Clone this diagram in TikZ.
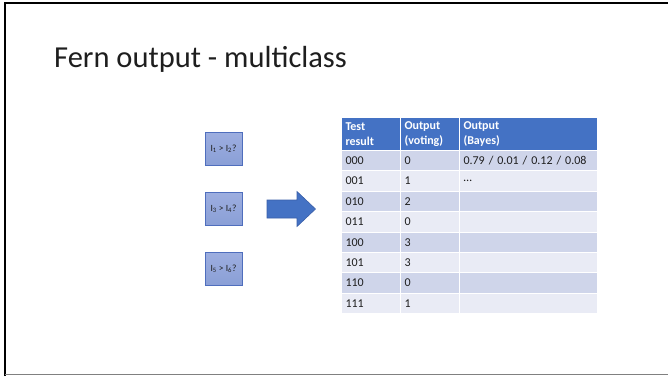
\documentclass[tikz,border=0pt]{standalone}
\usepackage{fontspec}
\setmainfont{Carlito}
\definecolor{hdr}{HTML}{4472C4}
\definecolor{rowA}{HTML}{CFD5EA}
\definecolor{rowB}{HTML}{E9EBF5}
\definecolor{boxedge}{HTML}{4F6EBD}
\definecolor{boxtop}{HTML}{9DAEE0}
\definecolor{boxbot}{HTML}{8A9FD6}
\definecolor{arrowedge}{HTML}{3A5FA8}
\definecolor{txt}{HTML}{1E1E1E}

\tikzset{
  cell/.style={anchor=north west, draw=white, line width=1pt, inner xsep=4pt, inner ysep=0pt,
    align=left, font=\fontsize{12}{14.5}\selectfont, text=txt},
  hcell/.style={cell, fill=hdr, minimum height=33pt, text=white, font=\fontsize{12}{14.5}\selectfont\bfseries},
  testbox/.style={draw=boxedge, line width=0.8pt, top color=boxtop, bottom color=boxbot,
    minimum width=37pt, minimum height=33pt, inner sep=0pt, text=txt, font=\fontsize{9.5}{10}\selectfont},
  bigarrow/.style={draw=arrowedge, line width=0.6pt, fill=hdr, line join=miter},
}

\begin{document}
\begin{tikzpicture}[x=1pt,y=-1pt]
\useasboundingbox (0,0) rectangle (668,376);
\fill[white] (0,0) rectangle (668,376);

% slide frame
\draw[black, line width=2pt] (5,376) -- (5,3) -- (668,3);
\draw[gray, line width=1.5pt] (5,374.6) -- (668,374.6);

% title
\node[anchor=base west, inner sep=0pt, font=\fontsize{30.5}{36}\selectfont, text=txt] (title) at (54,67) {Fern output - multiclass};

% binary tests
\node[testbox] (q1) at (223.5,148.5) {I\textsubscript{1} > I\textsubscript{2}?};
\node[testbox] (q2) at (223.5,208.5) {I\textsubscript{3} > I\textsubscript{4}?};
\node[testbox] (q3) at (223.5,268.5) {I\textsubscript{5} > I\textsubscript{6}?};

% block arrow between the tests and the table
\draw[bigarrow] (267,200) -- (297,200) -- (297,191.5) -- (315.5,209) -- (297,226.5)
  -- (297,218) -- (267,218) -- cycle;

% table header
\node[hcell, text width=51pt] (h1) at (341,117) {Test\\result};
\node[hcell, text width=51pt] (h2) at (400,117) {Output\\(voting)};
\node[hcell, text width=130pt] (h3) at (459,117) {Output\\(Bayes)};

% table body
\foreach \code/\vote [count=\i from 0] in {000/0,001/1,010/2,011/0,100/3,101/3,110/0,111/1} {
  \pgfmathsetmacro{\ytop}{150+20.4*\i}
  \pgfmathtruncatemacro{\odd}{mod(\i,2)}
  \ifnum\odd=0 \def\rowfill{rowA}\else\def\rowfill{rowB}\fi
  \node[cell, fill=\rowfill, minimum height=20.4pt, text width=51pt] (r\i a) at (341,\ytop) {\code};
  \node[cell, fill=\rowfill, minimum height=20.4pt, text width=51pt] (r\i b) at (400,\ytop) {\vote};
  \node[cell, fill=\rowfill, minimum height=20.4pt, text width=130pt] (r\i c) at (459,\ytop)
    {\ifcase\i\relax 0.79 / 0.01 / 0.12 / 0.08\or …\fi};
}
\end{tikzpicture}
\end{document}
